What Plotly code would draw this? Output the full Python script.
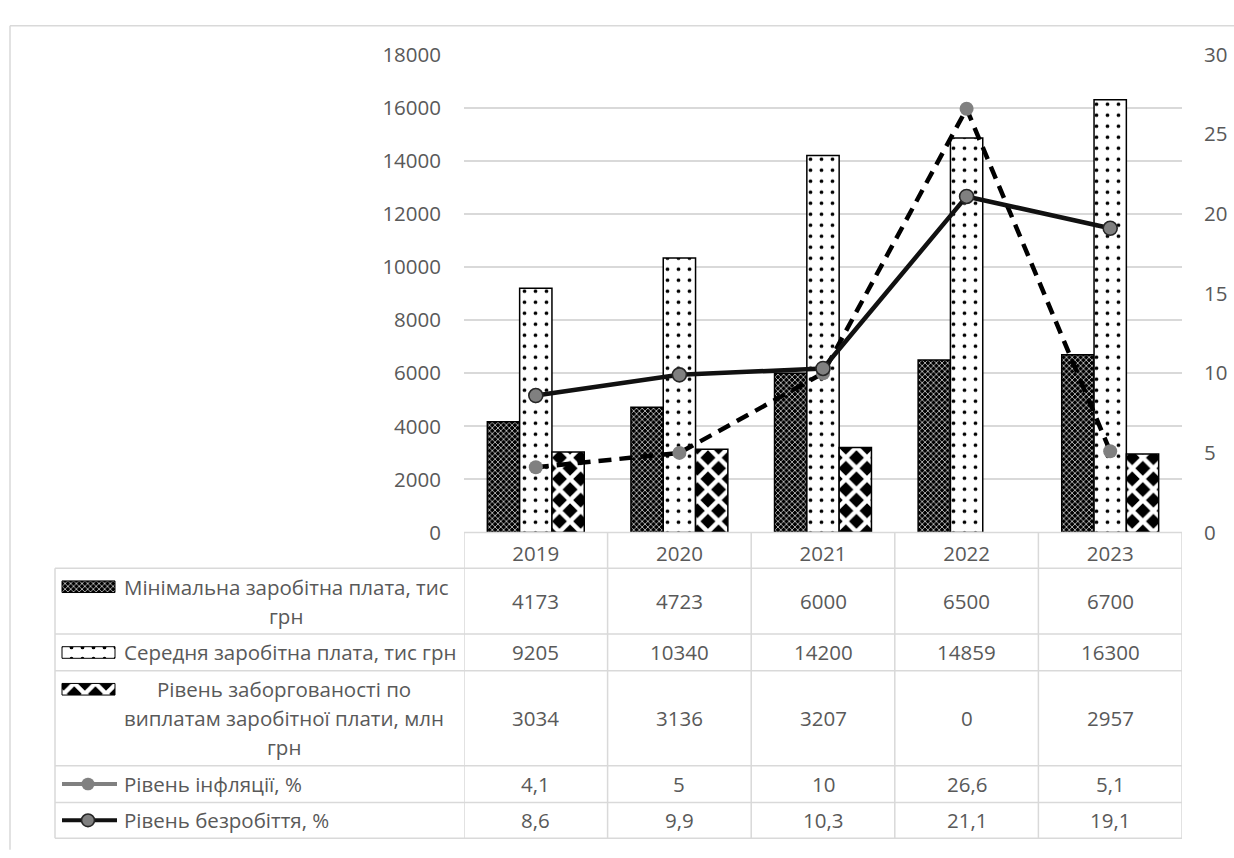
import plotly.graph_objects as go

# ---------------- data ----------------
years = ["2019", "2020", "2021", "2022", "2023"]
min_wage = [4173, 4723, 6000, 6500, 6700]
avg_wage = [9205, 10340, 14200, 14859, 16300]
wage_debt = [3034, 3136, 3207, 0, 2957]
inflation = [4.1, 5, 10, 26.6, 5.1]
unemployment = [8.6, 9.9, 10.3, 21.1, 19.1]

left_ticks = list(range(0, 18001, 2000))
right_ticks = list(range(0, 31, 5))

name_min = "Мінімальна заробітна плата, тис грн"
name_avg = "Середня заробітна плата, тис грн"
name_debt = "Рівень заборгованості по виплатам заробітної плати, млн грн"
name_infl = "Рівень інфляції, %"
name_unemp = "Рівень безробіття, %"

# ---------------- layout constants (pixels) ----------------
W, H = 1234, 858
PL, PR, PT, PB = 464, 1182, 41, 535
TABLE_LEFT = 55
ROW_EDGES = [535, 572, 640, 678, 776, 814, 851]
TEXT_COLOR = "#595959"
GRID = "#d9d9d9"
FONT = "Open Sans"
FS = 20.5


def px(x):
    return x / W


def py(y):
    return 1 - y / H


def fmt(v):
    return f"{v:g}".replace(".", ",")


fig = go.Figure()

pat_min = dict(shape="x", bgcolor="black", fgcolor="white", size=4, solidity=0.3, fillmode="replace")
pat_avg = dict(shape=".", bgcolor="white", fgcolor="black", size=11, solidity=0.09, fillmode="replace")
pat_debt = dict(shape="x", bgcolor="black", fgcolor="white", size=15, solidity=0.5, fillmode="replace")

for vals, nm, pat in [(min_wage, name_min, pat_min), (avg_wage, name_avg, pat_avg), (wage_debt, name_debt, pat_debt)]:
    fig.add_trace(go.Bar(
        x=years, y=vals, name=nm,
        marker=dict(color=pat["bgcolor"], pattern=pat,
                    line=dict(color="black", width=[1.5 if v else 0 for v in vals])),
        showlegend=False, hoverinfo="skip",
    ))

fig.add_trace(go.Scatter(
    x=years, y=inflation, name=name_infl, yaxis="y2", mode="lines+markers",
    line=dict(color="black", width=4.5, dash="13px,8px"),
    marker=dict(size=14, color="#808080", line=dict(width=0)),
    showlegend=False,
))
fig.add_trace(go.Scatter(
    x=years, y=unemployment, name=name_unemp, yaxis="y2", mode="lines+markers",
    line=dict(color="#111111", width=4.5),
    marker=dict(size=14, color="#808080", line=dict(width=1.6, color="#262626")),
    showlegend=False,
))

# ---------------- legend keys inside the data table (overlay pixel axes) ----------------
ICON_X0, ICON_X1, ICON_H = 62, 115, 12
icon_rows = [591, 659, 697]
for (nm, pat), yc in zip([(name_min, pat_min), (name_avg, pat_avg), (name_debt, pat_debt)], icon_rows):
    fig.add_trace(go.Bar(
        x=[ICON_X1 - ICON_X0], y=[yc], base=[ICON_X0], width=[ICON_H], orientation="h",
        xaxis="x3", yaxis="y3",
        marker=dict(color=pat["bgcolor"], pattern=pat, line=dict(color="black", width=1)),
        showlegend=False, hoverinfo="skip",
    ))

shapes = []
line_style = dict(color=GRID, width=1.5)
# outer chart border
shapes.append(dict(type="line", xref="paper", yref="paper", x0=px(10), x1=px(W + 5), y0=py(11), y1=py(11), line=line_style))
shapes.append(dict(type="line", xref="paper", yref="paper", x0=px(10), x1=px(10), y0=py(11), y1=py(H + 5), line=line_style))
# table horizontal lines
shapes.append(dict(type="line", xref="paper", yref="paper", x0=px(PL), x1=px(PR), y0=py(ROW_EDGES[0]), y1=py(ROW_EDGES[0]), line=line_style))
for ye in ROW_EDGES[1:]:
    shapes.append(dict(type="line", xref="paper", yref="paper", x0=px(TABLE_LEFT), x1=px(PR), y0=py(ye), y1=py(ye), line=line_style))
# table vertical lines (category boundaries)
for i in range(len(years) + 1):
    shapes.append(dict(type="line", xref="x", yref="paper", x0=i - 0.5, x1=i - 0.5, y0=py(ROW_EDGES[0]), y1=py(ROW_EDGES[-1]), line=line_style))
shapes.append(dict(type="line", xref="paper", yref="paper", x0=px(TABLE_LEFT), x1=px(TABLE_LEFT), y0=py(ROW_EDGES[1]), y1=py(ROW_EDGES[-1]), line=line_style))

# line-series legend keys
key_rows = [(ROW_EDGES[4] + ROW_EDGES[5]) / 2, (ROW_EDGES[5] + ROW_EDGES[6]) / 2]
key_styles = [("#808080", "#808080", 0), ("#111111", "#808080", 1.6)]
for yc, (lc, mc, mlw) in zip(key_rows, key_styles):
    shapes.append(dict(type="line", xref="paper", yref="paper", x0=px(62), x1=px(117), y0=py(yc), y1=py(yc), line=dict(color=lc, width=4)))
    r = 6.5
    shapes.append(dict(type="circle", xref="paper", yref="paper", x0=px(88 - r), x1=px(88 + r), y0=py(yc - r), y1=py(yc + r),
                       fillcolor=mc, line=dict(color="#262626" if mlw else mc, width=mlw if mlw else 0.1)))

annotations = []
row_centers = [(ROW_EDGES[i] + ROW_EDGES[i + 1]) / 2 for i in range(1, 6)]
series_table = [min_wage, avg_wage, wage_debt, inflation, unemployment]
for yc, vals in zip(row_centers, series_table):
    for i, v in enumerate(vals):
        annotations.append(dict(x=i, y=py(yc), xref="x", yref="paper", text=fmt(v), showarrow=False,
                                font=dict(family=FONT, size=FS, color=TEXT_COLOR), xanchor="center", yanchor="middle"))

label_lines = [
    ("Мінімальна заробітна плата, тис", 286, 591, "center"),
    ("грн", 286, 621, "center"),
    ("Середня заробітна плата, тис грн", 122, row_centers[1], "left"),
    ("Рівень заборгованості по", 284, 697, "center"),
    ("виплатам заробітної плати, млн", 284, 727, "center"),
    ("грн", 284, 757, "center"),
    (name_infl, 122, row_centers[3], "left"),
    (name_unemp, 122, row_centers[4], "left"),
]
for txt, x, y, anc in label_lines:
    annotations.append(dict(x=px(x), y=py(y), xref="paper", yref="paper", text=txt, showarrow=False,
                            font=dict(family=FONT, size=FS, color=TEXT_COLOR), xanchor=anc, yanchor="middle"))

fig.update_layout(
    width=W, height=H,
    margin=dict(l=0, r=0, t=0, b=0),
    paper_bgcolor="white", plot_bgcolor="rgba(0,0,0,0)",
    barmode="group", bargap=0.325, bargroupgap=0,
    font=dict(family=FONT, size=FS, color=TEXT_COLOR),
    xaxis=dict(domain=[px(PL), px(PR)], range=[-0.5, 4.5], type="category",
               showgrid=False, showline=False, zeroline=False, ticks="",
               tickfont=dict(family=FONT, size=FS, color=TEXT_COLOR), ticklabelstandoff=7),
    yaxis=dict(domain=[py(PB), py(PT)], range=[0, 18000], tickvals=left_ticks, tickformat="d",
               showgrid=True, gridcolor=GRID, gridwidth=1.5, zeroline=False, showline=False, ticks="",
               tickfont=dict(family=FONT, size=FS, color=TEXT_COLOR), ticklabelstandoff=22),
    yaxis2=dict(overlaying="y", side="right", range=[0, 30], tickvals=right_ticks, anchor="x",
                showgrid=False, zeroline=False, showline=False, ticks="",
                tickfont=dict(family=FONT, size=FS, color=TEXT_COLOR), ticklabelstandoff=21),
    xaxis3=dict(domain=[0, 1], range=[0, W], anchor="y3", visible=False, fixedrange=True),
    yaxis3=dict(domain=[0, 1], range=[H, 0], anchor="x3", visible=False, fixedrange=True),
    shapes=shapes, annotations=annotations,
    showlegend=False,
)

fig.write_html("out.html", config={"displayModeBar": False},
               post_script="document.body.style.margin='0';document.body.style.overflow='hidden';")
